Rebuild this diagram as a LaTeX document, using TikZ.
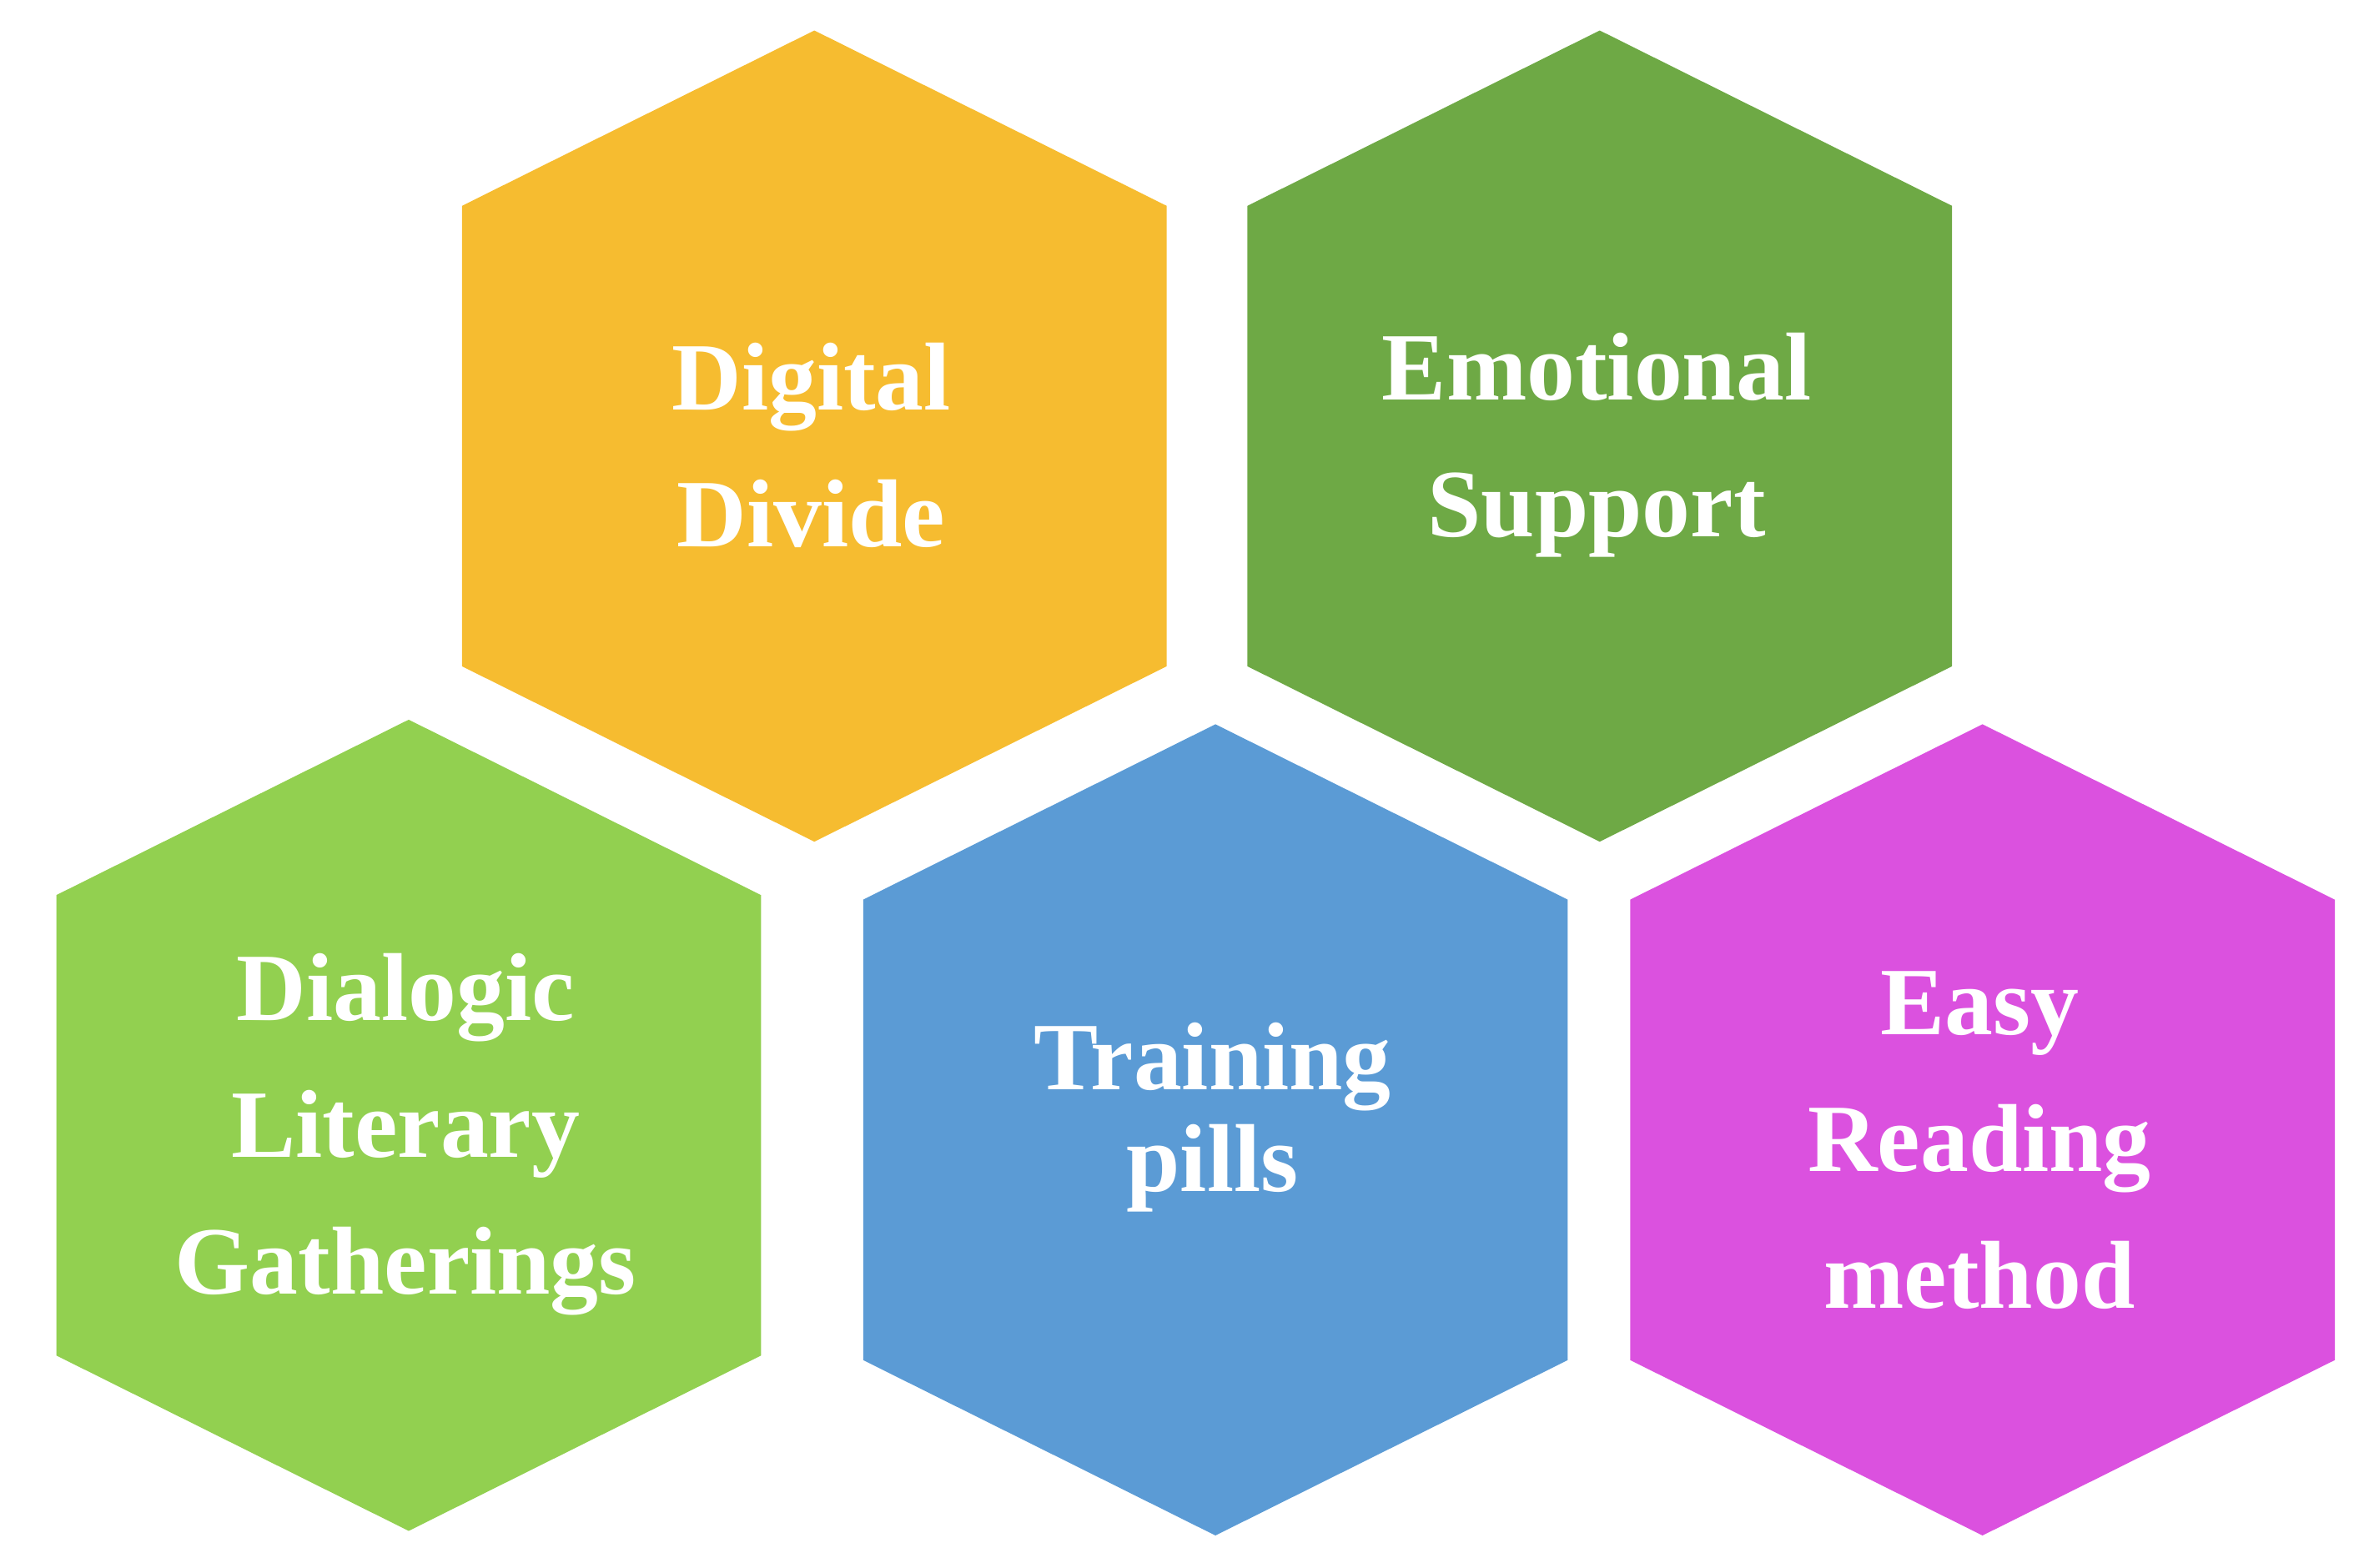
\documentclass[tikz,border=0pt]{standalone}
\usepackage{fontspec}
\setmainfont{Liberation Serif}
\begin{document}
\begin{tikzpicture}[x=0.01cm,y=-0.01cm,
  lbl/.style={text=white,font=\bfseries\fontsize{18pt}{25.5pt}\selectfont,align=center}]
\useasboundingbox (0,0) rectangle (1560,1028);
\definecolor{cY}{HTML}{F6BC30}
\definecolor{cG}{HTML}{6EA945}
\definecolor{cL}{HTML}{92D050}
\definecolor{cB}{HTML}{5B9BD5}
\definecolor{cM}{HTML}{DB51DF}
\newcommand{\hexa}[3]{\fill[#3] (#1,#2) ++(0,-265) -- ++(231,115) -- ++(0,302) -- ++(-231,115) -- ++(-231,-115) -- ++(0,-302) -- cycle;}
\hexa{534}{285}{cY}
\hexa{1049}{285}{cG}
\hexa{268}{737}{cL}
\hexa{797}{740}{cB}
\hexa{1300}{740}{cM}
\node[lbl] (dd) at (532,292) {Digital\\Divide};
\node[lbl] (es) at (1047,292) {Emotional\\Support};
\node[lbl] (dl) at (266,744) {Dialogic\\Literary\\Gatherings};
\node[lbl,font=\bfseries\fontsize{18pt}{19pt}\selectfont] (tp) at (795,733) {Training\\pills};
\node[lbl] (er) at (1298,748) {Easy\\Reading\\method};
\end{tikzpicture}
\end{document}
